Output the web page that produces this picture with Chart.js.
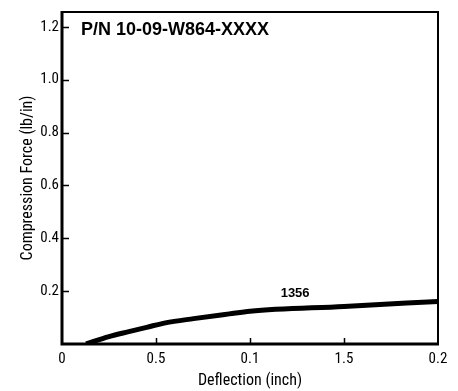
<!DOCTYPE html>
<html>
<head>
<meta charset="utf-8">
<script src="https://cdn.jsdelivr.net/npm/chart.js@4"></script>
<style>
  html, body { margin: 0; padding: 0; background: #fff; }
  #wrap { width: 458px; height: 391px; }
</style>
</head>
<body>
<div id="wrap"><canvas id="chart" width="458" height="391"></canvas></div>
<script>
/* ── Data ───────────────────────────────────────────────────── */
const deflection = [0.128, 0.25, 0.35, 0.45, 0.55, 0.7, 0.89, 1.0, 1.5, 2.0];
const force      = [0.0, 0.028, 0.046, 0.063, 0.080, 0.096, 0.114, 0.124, 0.142, 0.161];

/* Tick positions and the labels printed under them (as on the original) */
const xTickValues = [0, 0.5, 1.0, 1.5, 2.0];
const xTickLabels = ["0", "0.5", "0.1", "1.5", "0.2"];
const yTickValues = [0.2, 0.4, 0.6, 0.8, 1.0, 1.2];

const partNumber  = "P/N 10-09-W864-XXXX";
const curveLabel  = "1356";
const curveLabelAt = { x: 1.24, y: 0.19 };

const NARROW = "'Liberation Sans Narrow', 'Arial Narrow', 'Roboto Condensed', 'Liberation Sans', sans-serif";
const BOLD   = "'Liberation Sans', Arial, sans-serif";

/* ── Frame, inward tick marks and text labels ───────────────── */
const framePlugin = {
  id: "frame",
  afterDatasetsDraw(chart) {
    const { ctx, chartArea: a, scales } = chart;
    ctx.save();
    ctx.strokeStyle = "#000";

    /* top + right edges: thinner */
    ctx.lineWidth = 2;
    ctx.beginPath();
    ctx.moveTo(a.left, a.top);
    ctx.lineTo(a.right, a.top);
    ctx.lineTo(a.right, a.bottom);
    ctx.stroke();

    /* left + bottom axes: heavier */
    ctx.lineWidth = 3;
    ctx.beginPath();
    ctx.moveTo(a.left, a.top - 1);
    ctx.lineTo(a.left, a.bottom);
    ctx.lineTo(a.right + 1, a.bottom);
    ctx.stroke();

    /* inward tick marks */
    ctx.lineWidth = 1.5;
    ctx.beginPath();
    yTickValues.forEach(v => {
      const y = Math.round(scales.y.getPixelForValue(v)) + 0.5;
      ctx.moveTo(a.left, y);
      ctx.lineTo(a.left + 7, y);
    });
    xTickValues.slice(1, -1).forEach(v => {
      const x = Math.round(scales.x.getPixelForValue(v)) + 0.5;
      ctx.moveTo(x, a.bottom);
      ctx.lineTo(x, a.bottom - 6);
    });
    ctx.stroke();

    /* part number in the top-left corner */
    ctx.fillStyle = "#000";
    ctx.font = "bold 18px " + BOLD;
    ctx.textBaseline = "middle";
    ctx.textAlign = "left";
    ctx.fillText(partNumber, a.left + 19, a.top + 18);

    /* curve label */
    ctx.font = "bold 13px " + BOLD;
    ctx.textAlign = "center";
    ctx.fillText(curveLabel,
      scales.x.getPixelForValue(curveLabelAt.x),
      scales.y.getPixelForValue(curveLabelAt.y));
    ctx.restore();
  }
};

/* ── Chart ──────────────────────────────────────────────────── */
new Chart(document.getElementById("chart").getContext("2d"), {
  type: "line",
  data: {
    datasets: [{
      data: deflection.map((x, i) => ({ x, y: force[i] })),
      borderColor: "#000",
      borderWidth: 5,
      pointRadius: 0,
      cubicInterpolationMode: "monotone",
      fill: false,
    }],
  },
  options: {
    responsive: false,
    animation: false,
    layout: { padding: { top: 9, right: 20, left: 0, bottom: 0 } },
    plugins: { legend: { display: false }, tooltip: { enabled: false } },
    scales: {
      x: {
        type: "linear",
        min: 0,
        max: 2,
        afterBuildTicks: s => { s.ticks = xTickValues.map(v => ({ value: v })); },
        afterFit: s => { s.height = 47; },
        grid: { display: false, drawTicks: false },
        border: { display: false },
        ticks: {
          padding: 6,
          color: "#000",
          font: { family: NARROW, size: 15 },
          maxRotation: 0,
          callback: v => xTickLabels[xTickValues.indexOf(v)] ?? "",
        },
        title: {
          display: true,
          text: "Deflection (inch)",
          color: "#000",
          font: { family: NARROW, size: 16 },
          padding: { top: 2, bottom: 0 },
        },
      },
      y: {
        min: 0,
        max: 1.256,
        afterBuildTicks: s => { s.ticks = yTickValues.map(v => ({ value: v })); },
        afterFit: s => { s.width = 62; },
        grid: { display: false, drawTicks: false },
        border: { display: false },
        ticks: {
          padding: 3,
          color: "#000",
          font: { family: NARROW, size: 15 },
          callback: v => v.toFixed(1),
        },
        title: {
          display: true,
          text: "Compression Force (lb/in)",
          color: "#000",
          font: { family: NARROW, size: 16 },
          padding: { top: 18, bottom: 4 },
        },
      },
    },
  },
  plugins: [framePlugin],
});
</script>
</body>
</html>
